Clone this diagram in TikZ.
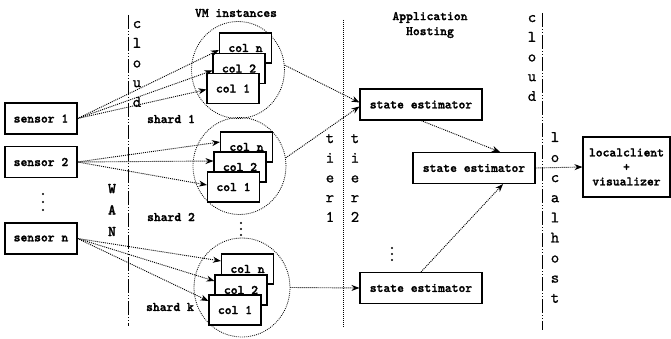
\documentclass[tikz,border=0pt]{standalone}
\usepackage{fontspec}
\newfontfamily\boxfont{lmmonolt10-bold.otf}[FakeBold=1.6]
\newfontfamily\letterfont{lmmono10-regular.otf}[FakeBold=0.8]
\usetikzlibrary{shapes.geometric,arrows.meta,calc}

\tikzset{
  box/.style={draw, line width=1.1pt, fill=white, inner sep=0pt, align=center,
    font=\boxfont\fontsize{13}{14.5}\selectfont},
  sensorbox/.style={box, minimum width=72pt, minimum height=31pt},
  colbox/.style={box, minimum width=52pt, minimum height=30pt},
  sebox/.style={box, minimum width=122pt, minimum height=31pt},
  clientbox/.style={box, minimum width=87pt, minimum height=60pt},
  shardring/.style={draw, ellipse, line width=0.8pt, dash pattern=on 0.9pt off 1.1pt,
    minimum width=93pt, minimum height=97pt, inner sep=0pt},
  flow/.style={line width=0.9pt, dash pattern=on 1pt off 1pt,
    -{Stealth[length=8pt,width=6pt]}},
  zoneline/.style={line width=0.9pt,
    dash pattern=on 14pt off 2pt on 1pt off 2pt on 1pt off 2pt},
  tierline/.style={line width=0.8pt, dash pattern=on 0.9pt off 1.1pt},
  vlabel/.style={inner sep=0pt, align=center,
    font=\letterfont\fontsize{16}{19.7}\selectfont},
  caption/.style={inner sep=0pt, align=center,
    font=\boxfont\fontsize{13}{15}\selectfont},
  gapdot/.style={fill=black},
}

\begin{document}
\begin{tikzpicture}[x=1pt, y=-1pt]
\useasboundingbox[fill=white] (0,0) rectangle (671,339);

% zone separators
\coordinate (wanTop) at (128,15);   \coordinate (wanBot) at (128,326);
\coordinate (tierTop) at (343,20);  \coordinate (tierBot) at (343,327);
\coordinate (hostTop) at (542,13);  \coordinate (hostBot) at (542,330);
\draw[zoneline] (wanTop) -- (wanBot);
\draw[tierline] (tierTop) -- (tierBot);
\draw[zoneline] (hostTop) -- (hostBot);

% vertical zone labels
\node[vlabel] (cloudA) at (137,64) {c\\l\\o\\u\\d};
\node[vlabel, font=\boxfont\fontsize{15}{21.5}\selectfont] (wan) at (112,210) {W\\A\\N};
\node[vlabel] (tierA) at (330,178) {t\\i\\e\\r\\1};
\node[vlabel] (tierB) at (355,178) {t\\i\\e\\r\\2};
\node[vlabel] (cloudB) at (532,58) {c\\l\\o\\u\\d};
\node[vlabel, font=\letterfont\fontsize{16}{20.1}\selectfont] (local) at (555,217.5) {l\\o\\c\\a\\l\\h\\o\\s\\t};

% captions
\node[caption] (vmcap) at (236,13) {VM instances};
\node[caption] (appcap) at (430,25) {Application\\Hosting};
\node[caption] (lab1) at (171,119) {shard 1};
\node[caption] (lab2) at (171,217) {shard 2};
\node[caption] (labk) at (170,307) {shard k};

% sensors
\node[sensorbox] (sen1) at (41,118.5) {sensor 1};
\node[sensorbox] (sen2) at (41,162) {sensor 2};
\node[sensorbox] (senn) at (41,238.5) {sensor n};
\foreach \dy in {-8,0,8} \fill[gapdot] (43,202+\dy) circle (1.1pt);

% shards
\node[shardring] (shard1) at (238,70) {};
\node[shardring] (shard2) at (239.5,166) {};
\node[shardring, minimum width=96pt, minimum height=99pt] (shard3) at (242,287.5) {};
\foreach \dy in {-6,0,6} \fill[gapdot] (241,229+\dy) circle (1.1pt);

\node[colbox] (a3) at (245.5,48) {col n};
\node[colbox] (a2) at (239,68.5) {col 2};
\node[colbox] (a1) at (233,88.5) {col 1};

\node[colbox] (b3) at (246.5,147) {col n};
\node[colbox] (b2) at (240,167) {col 2};
\node[colbox] (b1) at (233.5,187) {col 1};

\node[colbox] (c3) at (247.5,269) {col n};
\node[colbox] (c2) at (241,290) {col 2};
\node[colbox] (c1) at (235,310) {col 1};

% state estimators and client
\node[sebox] (se1) at (421,104.5) {state estimator};
\node[sebox] (se2) at (474,168) {state estimator};
\node[sebox] (se3) at (421,288) {state estimator};
\foreach \dy in {-6,0,6} \fill[gapdot] (392,254+\dy) circle (1.1pt);
\node[clientbox] (client) at (626.5,167) {localclient\\+\\visualizer};

% sensor feeds
\draw[flow] (sen1.east) -- ([yshift=-2pt]a3.west);
\draw[flow] (sen1.east) -- ([yshift=-2pt]a2.west);
\draw[flow] (sen1.east) -- ([yshift=-1pt]a1.west);

\draw[flow] (sen2.east) -- ([yshift=5pt]b3.west);
\draw[flow] (sen2.east) -- ([yshift=6pt]b2.west);
\draw[flow] (sen2.east) -- ([yshift=2pt]b1.west);

\draw[flow] (senn.east) -- ([yshift=8pt]c3.west);
\draw[flow] (senn.east) -- ([yshift=9pt]c2.west);
\draw[flow] (senn.east) -- ([yshift=9pt]c1.west);

% tier 1 -> tier 2
\draw[flow] (shard1.6) -- ([yshift=2pt]se1.west);
\draw[flow] (shard2.10) -- ([yshift=-2pt]se1.west);
\draw[flow] (shard3.east) -- (se3.west);

\draw[flow] (se1.south) -- ([xshift=26pt]se2.north);
\draw[flow] (se3.north) -- ([xshift=29pt]se2.south);
\draw[flow] (se2.east) -- (client.west);
\end{tikzpicture}
\end{document}
